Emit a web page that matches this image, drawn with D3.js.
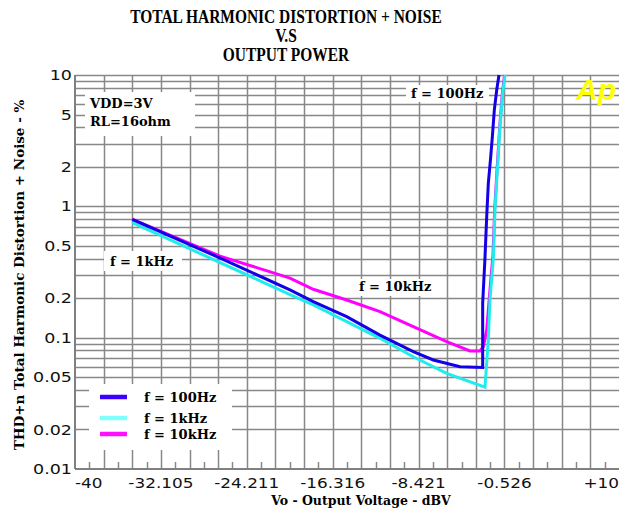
<!DOCTYPE html>
<html lang="en">
<head>
    <meta charset="UTF-8">
    <script src="https://d3js.org/d3.v7.min.js"></script>
    <style>
        body {
            margin: 0;
            padding: 0;
            background: #ffffff;
        }
        svg {
            display: block;
        }
        .tick-label {
            font-family: 'DejaVu Sans', sans-serif;
            font-size: 14px;
            fill: #111111;
        }
        .serif-bold {
            font-family: 'DejaVu Serif', serif;
            font-weight: bold;
            fill: #000000;
        }
    </style>
</head>
<body>
    <div id="chart"></div>
    <script>
        // Data
        const titleLines = ["TOTAL HARMONIC DISTORTION + NOISE", "V.S", "OUTPUT POWER"];
        const xTickValues = [-40, -32.105, -24.211, -16.316, -8.421, -0.526, 10];
        const xTickLabels = ["-40", "-32.105", "-24.211", "-16.316", "-8.421", "-0.526", "+10"];
        const yTickValues = [10, 5, 2, 1, 0.5, 0.2, 0.1, 0.05, 0.02, 0.01];
        const yTickLabels = ["10", "5", "2", "1", "0.5", "0.2", "0.1", "0.05", "0.02", "0.01"];

        const seriesNames = ["f = 100Hz", "f = 1kHz", "f = 10kHz"];

        // dBV
        const volts100 = [-34.73, -26.7, -20.24, -18.10, -15.03, -11.97, -8.91, -7.07, -4.61, -2.53, -2.53, -2.32, -2.16, -2.01, -1.79, -1.64, -1.46, -1.24, -1.03];
        // THD+N %
        const thd100 = [0.797, 0.405, 0.231, 0.188, 0.1445, 0.1047, 0.0782, 0.0676, 0.0601, 0.0594, 0.183, 0.402, 0.834, 1.50, 2.39, 3.39, 5.41, 7.69, 10];

        const volts1k = [-34.73, -20.24, -18.10, -15.03, -11.97, -8.91, -5.84, -2.32, -2.01, -1.86, -1.55, -1.40, -1.18, -0.94, -0.69, -0.48];
        const thd1k = [0.753, 0.213, 0.1774, 0.1323, 0.0989, 0.0716, 0.0535, 0.0419, 0.096, 0.194, 0.402, 0.938, 1.89, 4.04, 7.25, 10];

        const volts10k = [-34.73, -26.67, -20.24, -18.10, -15.03, -11.97, -8.91, -5.84, -3.70, -2.78, -2.47, -2.16, -1.86, -1.58, -1.43, -1.21, -0.96, -0.72, -0.52];
        const thd10k = [0.797, 0.418, 0.284, 0.2335, 0.1936, 0.1577, 0.1212, 0.0932, 0.0792, 0.0792, 0.0853, 0.1143, 0.231, 0.426, 0.938, 1.89, 4.04, 7.25, 10];

        const lineColors = ["#1400e6", "#20ecec", "#ff00ff"];
        const legendColors = ["#3c00ff", "#80ffff", "#ff10ff"];

        const width = 628, height = 513;
        const margin = {left: 75, right: 9, top: 75, bottom: 44};

        const svg = d3.select("#chart").append("svg")
            .attr("width", width)
            .attr("height", height);

        svg.append("rect").attr("width", width).attr("height", height).attr("fill", "#ffffff");

        const x = d3.scaleLinear()
            .domain([-40, 10])
            .range([margin.left, width - margin.right]);

        const y = d3.scaleLog()
            .domain([0.01, 10])
            .range([height - margin.bottom, margin.top]);

        // grid
        const xStep = 50 / 19;
        const xGrid = d3.range(1, 19).map(k => -40 + k * xStep);
        const xMinor = d3.range(0, 19).map(k => -40 + (k + 0.5) * xStep);
        const yGrid = [];
        [0.01, 0.1, 1].forEach(dec => d3.range(1, 10).forEach(m => { if (dec * m > 0.01) yGrid.push(dec * m); }));
        yGrid.push(10);

        const grid = svg.append("g").attr("stroke", "#888888").attr("stroke-width", 1.5);

        grid.selectAll(".hg").data(yGrid).enter().append("line")
            .attr("x1", x(-40)).attr("x2", x(10))
            .attr("y1", d => Math.round(y(d)) + 0.5).attr("y2", d => Math.round(y(d)) + 0.5);

        grid.selectAll(".vg").data(xGrid).enter().append("line")
            .attr("x1", d => Math.round(x(d)) + 0.5).attr("x2", d => Math.round(x(d)) + 0.5)
            .attr("y1", y(10)).attr("y2", y(0.01));

        grid.selectAll(".mt").data(xMinor).enter().append("line")
            .attr("x1", d => Math.round(x(d)) + 0.5).attr("x2", d => Math.round(x(d)) + 0.5)
            .attr("y1", y(0.01) - 7).attr("y2", y(0.01));

        // axes lines
        svg.append("line")
            .attr("x1", x(-40)).attr("x2", x(10))
            .attr("y1", y(0.01)).attr("y2", y(0.01))
            .attr("stroke", "#808080").attr("stroke-width", 2);
        svg.append("line")
            .attr("x1", x(-40)).attr("x2", x(-40))
            .attr("y1", y(10)).attr("y2", y(0.01))
            .attr("stroke", "#808080").attr("stroke-width", 2);

        // white boxes behind annotations (they hide the grid)
        const boxes = [
            {x0: 85, y0: 92, x1: 195, y1: 136},
            {x0: 406, y0: 85, x1: 489, y1: 102},
            {x0: 104, y0: 251, x1: 182, y1: 271},
            {x0: 354, y0: 279, x1: 440, y1: 296},
            {x0: 89, y0: 384, x1: 232, y1: 450}
        ];
        svg.selectAll(".box").data(boxes).enter().append("rect")
            .attr("x", d => d.x0).attr("y", d => d.y0)
            .attr("width", d => d.x1 - d.x0).attr("height", d => d.y1 - d.y0)
            .attr("fill", "#ffffff");

        // curves
        const series = [
            volts10k.map((v, i) => [v, thd10k[i]]),
            volts1k.map((v, i) => [v, thd1k[i]]),
            volts100.map((v, i) => [v, thd100[i]])
        ];
        const seriesColors = [lineColors[2], lineColors[1], lineColors[0]];

        svg.append("clipPath").attr("id", "plotClip")
            .append("rect")
            .attr("x", x(-40)).attr("y", y(10) - 1)
            .attr("width", x(10) - x(-40)).attr("height", y(0.01) - y(10) + 1);

        const line = d3.line()
            .x(d => x(d[0]))
            .y(d => y(d[1]));

        svg.append("g").attr("clip-path", "url(#plotClip)")
            .selectAll("path").data(series).enter().append("path")
            .attr("d", line)
            .attr("fill", "none")
            .attr("stroke", (d, i) => seriesColors[i])
            .attr("stroke-width", 3)
            .attr("stroke-linejoin", "miter");

        // tick labels
        svg.selectAll(".xl").data(xTickValues).enter().append("text")
            .attr("class", "tick-label")
            .attr("text-anchor", (d, i) => i === 0 ? "start" : (i === xTickValues.length - 1 ? "end" : "middle"))
            .attr("transform", (d, i) => `translate(${x(d)},488) scale(1.25,1)`)
            .style("font-size", "13.5px")
            .text((d, i) => xTickLabels[i]);

        svg.selectAll(".yl").data(yTickValues).enter().append("text")
            .attr("class", "tick-label")
            .attr("text-anchor", "end")
            .attr("dy", "0.36em")
            .attr("transform", d => `translate(${x(-40) - 3},${y(d)}) scale(1.25,1)`)
            .text((d, i) => yTickLabels[i]);

        // title
        svg.selectAll(".title").data(titleLines).enter().append("text")
            .attr("text-anchor", "middle")
            .attr("transform", (d, i) => `translate(286,${22.5 + i * 19}) scale(0.86,1)`)
            .style("font-family", "'Liberation Serif', serif")
            .style("font-weight", "bold")
            .style("font-size", "18px")
            .text(d => d);

        // axis titles
        svg.append("text")
            .attr("class", "serif-bold")
            .attr("x", 361).attr("y", 505)
            .attr("text-anchor", "middle")
            .style("font-size", "12.5px")
            .text("Vo - Output Voltage - dBV");

        svg.append("text")
            .attr("class", "serif-bold")
            .attr("text-anchor", "middle")
            .attr("transform", "translate(24,275) rotate(-90)")
            .style("font-size", "13.5px")
            .text("THD+n Total Harmonic Distortion + Noise - %");

        // annotations
        const notes = [
            {t: "VDD=3V", x: 90, y: 108},
            {t: "RL=16ohm", x: 90, y: 126},
            {t: seriesNames[0], x: 411, y: 98},
            {t: seriesNames[1], x: 110, y: 266},
            {t: seriesNames[2], x: 359, y: 291}
        ];
        svg.selectAll(".note").data(notes).enter().append("text")
            .attr("class", "serif-bold")
            .attr("x", d => d.x).attr("y", d => d.y)
            .style("font-size", "13px")
            .text(d => d.t);

        // legend
        const legend = svg.append("g");
        const legendY = [397, 418, 434];
        seriesNames.forEach((name, i) => {
            legend.append("line")
                .attr("x1", 100).attr("x2", 127)
                .attr("y1", legendY[i]).attr("y2", legendY[i])
                .attr("stroke", legendColors[i]).attr("stroke-width", 4.5);
            legend.append("text")
                .attr("class", "serif-bold")
                .attr("x", 144).attr("y", legendY[i] + 5)
                .style("font-size", "13px")
                .text(name);
        });

        // Ap logo
        svg.append("text")
            .attr("x", 576).attr("y", 100)
            .style("font-family", "'Liberation Sans', sans-serif")
            .style("font-weight", "bold")
            .style("font-style", "italic")
            .style("font-size", "30px")
            .attr("fill", "#ffff00")
            .text("Ap");
    </script>
</body>
</html>
